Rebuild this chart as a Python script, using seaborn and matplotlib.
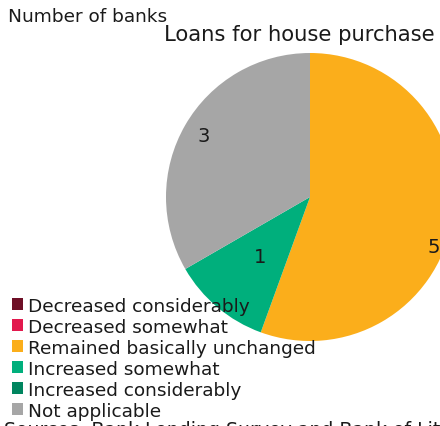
import numpy as np
import matplotlib
matplotlib.use("Agg")
import matplotlib.pyplot as plt
import seaborn as sns

sns.set_theme(style="white")
plt.rcParams["font.family"] = ["DejaVu Sans"]

# Survey answers: number of banks per response
categories = [
    "Decreased considerably",
    "Decreased somewhat",
    "Remained basically unchanged",
    "Increased somewhat",
    "Increased considerably",
    "Not applicable",
]
counts = [0, 0, 5, 1, 0, 3]
colors = ["#6e0f26", "#e2194d", "#fbae1b", "#00af7c", "#00855f", "#a6a6a6"]

title = "Loans for house purchase"
unit_label = "Number of banks"
source_note = "Sources: Bank Lending Survey and Bank of Lithuania"

# label placement per slice: (radius fraction, angle shift in degrees)
label_place = {2: (0.925, -12), 3: (0.54, 0), 5: (0.85, 0)}

W, H = 440, 427
fig = plt.figure(figsize=(W / 100, H / 100), dpi=100)

cx, cy, r = 310, 198, 144
ax = fig.add_axes([(cx - r) / W, (H - cy - r) / H, 2 * r / W, 2 * r / H])
wedges, _ = ax.pie(
    counts,
    colors=colors,
    startangle=90,
    counterclock=False,
    radius=1,
    wedgeprops=dict(linewidth=0),
)
ax.set_xlim(-1, 1)
ax.set_ylim(-1, 1)
ax.set_aspect("equal")
ax.axis("off")

for i, w in enumerate(wedges):
    if counts[i] == 0:
        continue
    frac, shift = label_place.get(i, (0.7, 0))
    ang = np.deg2rad((w.theta1 + w.theta2) / 2 + shift)
    ax.text(frac * np.cos(ang), frac * np.sin(ang), str(counts[i]),
            ha="center", va="center", fontsize=14, color="#1a1a1a")

fig.text(299 / W, 1 - 35 / H, title, ha="center", va="center",
         fontsize=15.2, color="#1a1a1a")
fig.text(8 / W, 1 - 17 / H, unit_label, ha="left", va="center",
         fontsize=13.3, color="#1a1a1a")
fig.text(4 / W, 1 - 436 / H, source_note, ha="left", va="baseline",
         fontsize=13.6, color="#1a1a1a")

fig.legend(
    wedges, categories,
    loc="upper left", bbox_to_anchor=(12 / W, 1 - 297.5 / H),
    frameon=False, fontsize=13.3,
    handlelength=0.6, handleheight=0.6, handletextpad=0.28,
    labelspacing=0.165, borderpad=0, borderaxespad=0,
    labelcolor="#1a1a1a",
)

fig.savefig("out.png", dpi=100)
